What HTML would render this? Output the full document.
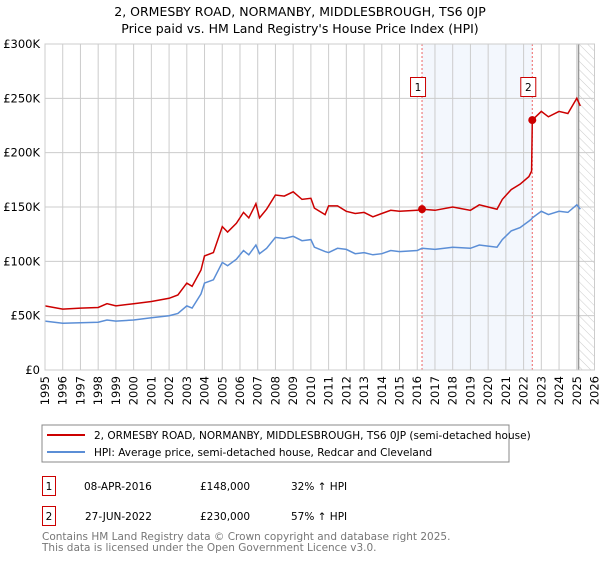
<!DOCTYPE html>
<html><head><meta charset="utf-8"><style>
body{margin:0;width:600px;height:560px;background:#fff;font-family:"DejaVu Sans","Liberation Sans",sans-serif;overflow:hidden}
svg text{font-family:"DejaVu Sans","Liberation Sans",sans-serif}
</style></head><body>
<svg id="c" width="600" height="560">
<defs><pattern id="hatch" width="6" height="6" patternUnits="userSpaceOnUse" patternTransform="rotate(-45)"><line x1="0" y1="0" x2="0" y2="6" stroke="#ccc" stroke-width="1"/></pattern></defs>
<text x="300" y="16" text-anchor="middle" font-size="12.5">2, ORMESBY ROAD, NORMANBY, MIDDLESBROUGH, TS6 0JP</text>
<text x="300" y="33" text-anchor="middle" font-size="12.5">Price paid vs. HM Land Registry's House Price Index (HPI)</text>
<g id="grid"></g><g id="marks"></g><g id="axes"></g>
<rect x="45" y="44" width="549.5" height="326" fill="none" stroke="#ccc"/>
<rect x="42" y="425" width="467" height="37" fill="#fff" stroke="#888"/>
<line x1="47" y1="435" x2="85" y2="435" stroke="#cc0000" stroke-width="2"/>
<text x="94" y="439" font-size="10.5">2, ORMESBY ROAD, NORMANBY, MIDDLESBROUGH, TS6 0JP (semi-detached house)</text>
<line x1="47" y1="452" x2="85" y2="452" stroke="#5b8ed6" stroke-width="2"/>
<text x="94" y="456" font-size="10.5">HPI: Average price, semi-detached house, Redcar and Cleveland</text>
<g font-size="10.5">
<rect x="42.5" y="476.5" width="13" height="19" fill="#fff" stroke="#cc0000"/><text x="49" y="490" text-anchor="middle">1</text>
<text x="84" y="490">08-APR-2016</text><text x="200" y="490">£148,000</text><text x="291" y="490">32% ↑ HPI</text></g>
<g font-size="10.5">
<rect x="42.5" y="506.5" width="13" height="19" fill="#fff" stroke="#cc0000"/><text x="49" y="520" text-anchor="middle">2</text>
<text x="85" y="520">27-JUN-2022</text><text x="200" y="520">£230,000</text><text x="291" y="520">57% ↑ HPI</text></g>
<text x="42" y="540" font-size="10.5" fill="#777">Contains HM Land Registry data © Crown copyright and database right 2025.</text>
<text x="42" y="551" font-size="10.5" fill="#777">This data is licensed under the Open Government Licence v3.0.</text>
</svg>
<script>
const years=[1995,1996,1997,1998,1999,2000,2001,2002,2003,2004,2005,2006,2007,2008,2009,2010,2011,2012,2013,2014,2015,2016,2017,2018,2019,2020,2021,2022,2023,2024,2025,2026];
const yTicks=[0,50000,100000,150000,200000,250000,300000];
const yLabels=["£0","£50K","£100K","£150K","£200K","£250K","£300K"];
const times=[1995,1996,1997,1998,1998.5,1999,2000,2001,2002,2002.5,2003,2003.3,2003.8,2004,2004.5,2005,2005.3,2005.8,2006.2,2006.5,2006.9,2007.1,2007.5,2008,2008.5,2009,2009.5,2010,2010.2,2010.8,2011,2011.5,2012,2012.5,2013,2013.5,2014,2014.5,2015,2016,2016.27,2017,2018,2019,2019.5,2020,2020.5,2020.8,2021.3,2021.8,2022.3,2022.45,2022.49,2023,2023.4,2024,2024.5,2025,2025.2];
const hpi=[45,43,43.5,44,46,45,46,48,50,52,59,57,70,80,83,99,96,102,110,106,115,107,112,122,121,123,119,120,113,109,108,112,111,107,108,106,107,110,109,110,112,111,113,112,115,114,113,120,128,131,137,139,140,146,143,146,145,152,148];
const price=[59,56,57,57.5,61,59,61,63,66,69,80,77,92,105,108,132,127,135,145,140,153,140,148,161,160,164,157,158,149,143,151,151,146,144,145,141,144,147,146,147,148,147,150,147,152,150,148,157,166,171,178,183,230,238,233,238,236,250,243];
const saleTimes=[2016.27,2022.49];
const saleValues=[148000,230000];
const saleLabels=["1","2"];
const X0=45,X1=594.5,Y0=370,Y1=44;
const x=t=>X0+(t-1995)/(2026-1995)*(X1-X0);
const y=v=>Y0-v/300000*(Y0-Y1);
const NS="http://www.w3.org/2000/svg";
function mk(p,tag,a){const e=document.createElementNS(NS,tag);for(const k in a)e.setAttribute(k,a[k]);p.appendChild(e);return e;}
const g=document.getElementById('grid'),m=document.getElementById('marks'),ax=document.getElementById('axes');
let sh=mk(g,'rect',{x:x(saleTimes[0]),y:Y1,width:x(saleTimes[1])-x(saleTimes[0]),height:Y0-Y1,fill:'#eef3fc',opacity:0.7});


yTicks.forEach((v,i)=>{
 const l=mk(g,'line',{x1:X0,x2:X1,y1:y(v),y2:y(v),stroke:'#ccc'});
 
 
 const t=mk(ax,'text',{x:40,y:y(v)+4,'text-anchor':'end','font-size':'11.5'});t.textContent=yLabels[i];
 
 
});
years.forEach(yr=>{
 const l=mk(g,'line',{x1:x(yr),x2:x(yr),y1:Y1,y2:Y0,stroke:'#ccc'});
 
 
 const t=mk(ax,'text',{x:0,y:0,'text-anchor':'end','font-size':'11.5',transform:`translate(${x(yr)+4},${Y0+6}) rotate(-90)`});t.textContent=yr;
 
 
});
const hx=x(2025.1);
let hr=mk(g,'rect',{x:hx,y:Y1,width:X1-hx,height:Y0-Y1,fill:'url(#hatch)'});


let hl=mk(g,'line',{x1:hx,x2:hx,y1:Y1,y2:Y0,stroke:'#999','stroke-width':1.5});


saleTimes.forEach((t,i)=>{
 const l=mk(m,'line',{x1:x(t),x2:x(t),y1:Y1,y2:Y0,stroke:'#e66','stroke-dasharray':'2,2'});
 
 
 const r=mk(m,'rect',{x:x(t)-11.5,y:77.5,width:15,height:19,fill:'#fff',stroke:'#cc0000'});
 
 
 const tx=mk(m,'text',{x:x(t)-4,y:91,'text-anchor':'middle','font-size':'10.5'});tx.textContent=saleLabels[i];
 
 
});
const path=arr=>arr.map((v,i)=>(i?'L':'M')+x(times[i]).toFixed(1)+','+y(v*1000).toFixed(1)).join('');
let bl=mk(m,'path',{d:path(hpi),fill:'none',stroke:'#5b8ed6','stroke-width':1.5});


let rl=mk(m,'path',{d:path(price),fill:'none',stroke:'#cc0000','stroke-width':1.5});


saleTimes.forEach((t,i)=>{
 const c=mk(m,'circle',{cx:x(t),cy:y(saleValues[i]),r:4,fill:'#cc0000'});
 
 
});
</script>
</body></html>
